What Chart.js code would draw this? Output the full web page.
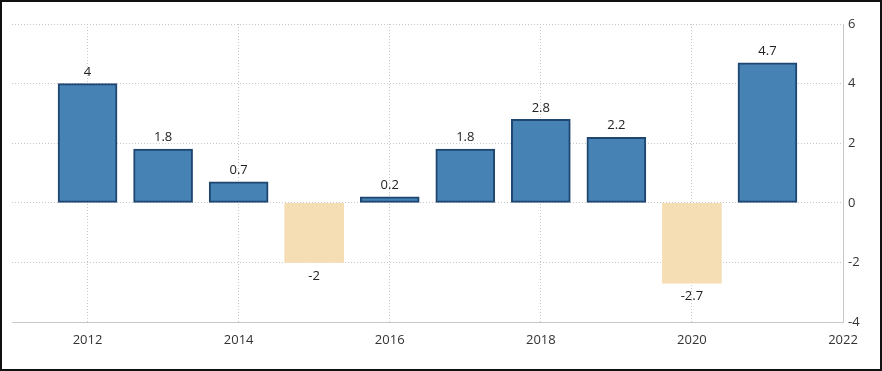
<!DOCTYPE html>
<html>
<head>
<meta charset="utf-8">
<script src="https://cdn.jsdelivr.net/npm/chart.js@4/dist/chart.umd.min.js"></script>
<style>
  html, body { margin: 0; padding: 0; background: #fff; }
  #frame { position: relative; width: 882px; height: 371px; box-sizing: border-box; border: 2px solid #111; background: #fff; }
  #c { position: absolute; left: 0; top: 0; }
</style>
</head>
<body>
<div id="frame"><canvas id="c" width="878" height="367"></canvas></div>
<script>
const years = [2012, 2013, 2014, 2015, 2016, 2017, 2018, 2019, 2020, 2021];
const values = [4, 1.8, 0.7, -2, 0.2, 1.8, 2.8, 2.2, -2.7, 4.7];
const xTicks = [2012, 2014, 2016, 2018, 2020, 2022];
const yTicks = [-4, -2, 0, 2, 4, 6];

const FONT = '"Open Sans", "DejaVu Sans", sans-serif';

const valueLabels = {
  id: 'valueLabels',
  afterDatasetsDraw(chart) {
    const ctx = chart.ctx;
    const meta = chart.getDatasetMeta(0);
    ctx.save();
    ctx.font = '13px ' + FONT;
    ctx.fillStyle = '#222';
    ctx.textAlign = 'center';
    meta.data.forEach((bar, i) => {
      const v = values[i];
      if (v >= 0) {
        ctx.textBaseline = 'bottom';
        ctx.fillText(String(v), bar.x, bar.y - 5);
      } else {
        ctx.textBaseline = 'top';
        ctx.fillText(String(v), bar.x, bar.y + 7);
      }
    });
    ctx.restore();
  }
};

new Chart(document.getElementById('c'), {
  type: 'bar',
  data: {
    datasets: [{
      data: years.map((y, i) => ({ x: y, y: values[i] })),
      backgroundColor: ctx => (values[ctx.dataIndex] >= 0 ? '#4682B4' : '#F5DEB3'),
      borderColor: ctx => (values[ctx.dataIndex] >= 0 ? '#1d4670' : '#F5DEB3'),
      borderWidth: ctx => (values[ctx.dataIndex] >= 0 ? 2 : 0),
      borderSkipped: false,
      barThickness: 59
    }]
  },
  options: {
    responsive: false,
    animation: false,
    layout: { padding: { left: 10, top: 22, right: 0, bottom: 0 } },
    plugins: { legend: { display: false }, tooltip: { enabled: false } },
    scales: {
      x: {
        type: 'linear',
        min: 2011,
        max: 2022,
        offset: false,
        afterBuildTicks: s => { s.ticks = xTicks.map(v => ({ value: v })); },
        afterFit: s => { s.height = 47; },
        grid: { color: '#c8c8c8', lineWidth: 1, drawTicks: false, offset: false },
        border: { display: true, color: '#c8c8c8', dash: [1, 2] },
        ticks: {
          padding: 10,
          color: '#333',
          font: { family: FONT, size: 13 },
          callback: v => String(v),
          maxRotation: 0,
          autoSkip: false
        }
      },
      y: {
        position: 'right',
        min: -4,
        max: 6,
        afterBuildTicks: s => { s.ticks = yTicks.map(v => ({ value: v })); },
        afterFit: s => { s.width = 37; },
        grid: { color: '#c8c8c8', lineWidth: 1, drawTicks: false },
        border: { display: true, color: '#c8c8c8', dash: [1, 2] },
        ticks: {
          padding: 5,
          color: '#333',
          font: { family: FONT, size: 13 },
          callback: v => String(v)
        }
      }
    }
  },
  plugins: [valueLabels]
});
</script>
</body>
</html>
